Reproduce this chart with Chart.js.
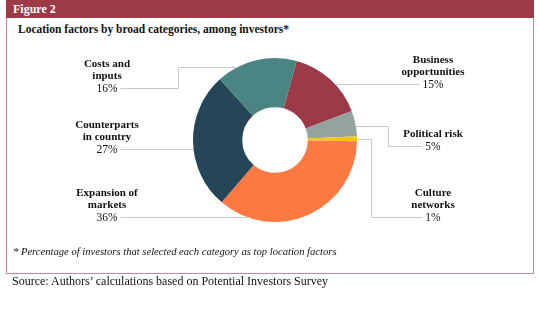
<!DOCTYPE html>
<html>
<head>
<meta charset="utf-8">
<script src="https://cdn.jsdelivr.net/npm/chart.js@4"></script>
<style>
  html, body { margin: 0; padding: 0; background: #ffffff; }
  body { width: 540px; height: 329px; position: relative; overflow: hidden;
         font-family: "Liberation Serif", "Times New Roman", serif; color: #111; }
  #frame { position: absolute; left: 6px; top: 0; width: 526px; height: 273px;
           border: 1.5px solid #c98990; border-top: none; box-sizing: content-box; }
  #bar { position: absolute; left: 6px; top: 0; width: 528px; height: 18px; background: #9d3a47; }
  #fig { position: absolute; left: 13px; top: 2px; font-size: 12px; font-weight: bold; color: #fff; }
  #sub { position: absolute; left: 18px; top: 23px; font-size: 11.5px; font-weight: bold; color: #111; }
  #note { position: absolute; left: 13px; top: 246px; font-size: 10.6px; font-style: italic; color: #111; }
  #src { position: absolute; left: 12px; top: 274px; font-size: 12px; color: #111; }
  canvas { position: absolute; left: 0; top: 0; }
</style>
</head>
<body>
<div id="frame"></div>
<div id="bar"></div>
<div id="fig">Figure 2</div>
<div id="sub">Location factors by broad categories, among investors*</div>
<canvas id="c" width="540" height="329"></canvas>
<div id="note">* Percentage of investors that selected each category as top location factors</div>
<div id="src">Source: Authors’ calculations based on Potential Investors Survey</div>
<script>
// Categories, in clockwise order starting from the top-right slice
const categories = [
  ["Business", "opportunities"],
  ["Political risk"],
  ["Culture", "networks"],
  ["Expansion of", "markets"],
  ["Counterparts", "in country"],
  ["Costs and", "inputs"]
];
const shares = [15, 5, 1, 36, 27, 16];
const sliceColors = ["#9d3a47", "#93a39e", "#f5c518", "#fc7a42", "#254659", "#4b8583"];

// Where each callout sits: label centre x, y of the name's first line,
// y of the leader line where it leaves the ring, and an optional elbow x.
const callouts = [
  { side: "right", cx: 433, top: 60, ringY: 84,  elbowX: null },
  { side: "right", cx: 433, top: 134, ringY: 126, elbowX: 388 },
  { side: "right", cx: 433, top: 193, ringY: 139, elbowX: 371 },
  { side: "left",  cx: 107, top: 193, ringY: 218, elbowX: null },
  { side: "left",  cx: 107, top: 125, ringY: 149, elbowX: null },
  { side: "left",  cx: 107, top: 64,  ringY: 67,  elbowX: 178 }
];

const calloutPlugin = {
  id: "callouts",
  afterDraw(chart) {
    const ctx = chart.ctx;
    const arc = chart.getDatasetMeta(0).data[0];
    const cx0 = arc.x, cy0 = arc.y, R = arc.outerRadius;
    const lineH = 12.5;
    ctx.save();
    ctx.textAlign = "center";
    ctx.textBaseline = "middle";
    ctx.fillStyle = "#111";
    categories.forEach((name, i) => {
      const c = callouts[i];
      ctx.font = "bold 11px 'Liberation Serif', serif";
      name.forEach((ln, k) => ctx.fillText(ln, c.cx, c.top + k * lineH));
      const pctY = c.top + name.length * lineH;
      ctx.font = "11.5px 'Liberation Serif', serif";
      const pct = shares[i] + "%";
      ctx.fillText(pct, c.cx, pctY);
      const half = ctx.measureText(pct).width / 2;
      // leader line from the label to the ring's outer edge
      const dy = c.ringY - cy0;
      const dx = Math.sqrt(Math.max(R * R - dy * dy, 0));
      const ringX = c.side === "right" ? cx0 + dx : cx0 - dx;
      const textX = c.side === "right" ? c.cx - half - 3 : c.cx + half + 3;
      ctx.strokeStyle = "#c9c9c9";
      ctx.lineWidth = 1;
      ctx.beginPath();
      ctx.moveTo(textX, Math.round(pctY) - 0.5);
      if (c.elbowX !== null) {
        ctx.lineTo(c.elbowX + 0.5, Math.round(pctY) - 0.5);
        ctx.lineTo(c.elbowX + 0.5, Math.round(c.ringY) + 0.5);
        ctx.lineTo(ringX, Math.round(c.ringY) + 0.5);
      } else {
        ctx.lineTo(ringX, Math.round(pctY) - 0.5);
      }
      ctx.stroke();
    });
    ctx.restore();
  }
};

new Chart(document.getElementById("c"), {
  type: "doughnut",
  data: {
    labels: categories.map(n => n.join(" ")),
    datasets: [{
      data: shares,
      backgroundColor: sliceColors,
      borderWidth: 0
    }]
  },
  options: {
    responsive: false,
    animation: false,
    rotation: 15.3,
    cutout: "40%",
    layout: { padding: { left: 193, right: 183, top: 58, bottom: 107 } },
    plugins: { legend: { display: false }, tooltip: { enabled: false } }
  },
  plugins: [calloutPlugin]
});
</script>
</body>
</html>
